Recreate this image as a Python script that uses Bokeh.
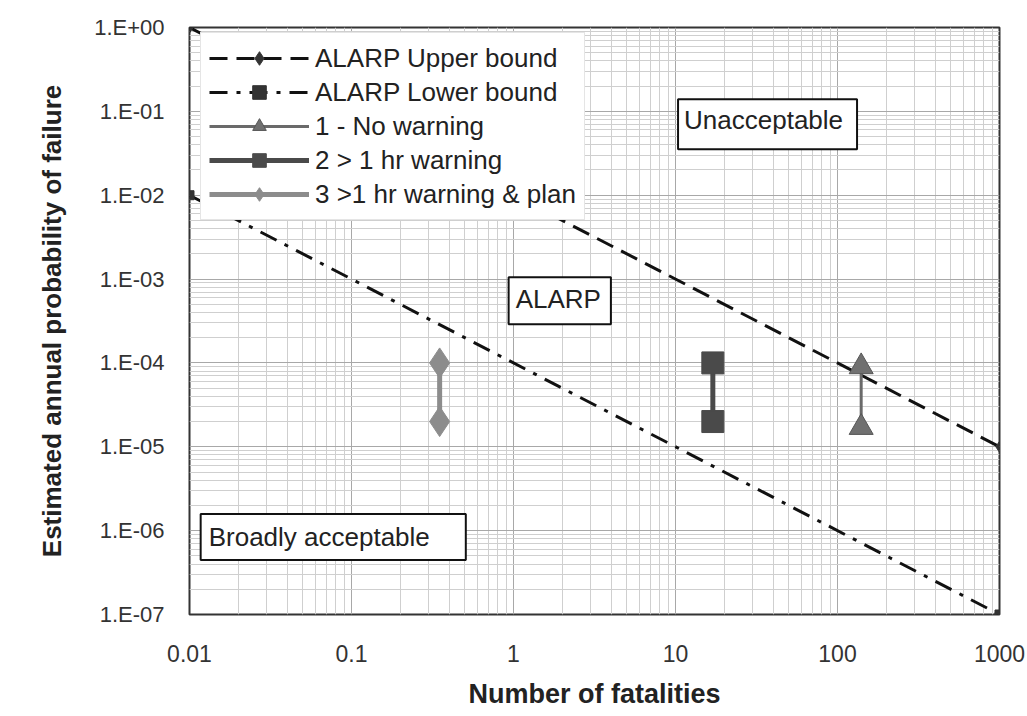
from bokeh.plotting import figure
from bokeh.models import (FixedTicker, CustomJSTickFormatter, Label, Legend,
                          LegendItem)
from bokeh.embed import file_html
from bokeh.resources import INLINE

# ---- data ----
bound_x = [0.01, 1000]
upper_bound = [1.0, 1e-5]
lower_bound = [1e-2, 1e-7]

s1_x = [140, 140]          # 1 - No warning
s1_y = [9e-5, 1.7e-5]
s2_x = [17, 17]            # 2 > 1 hr warning
s2_y = [1e-4, 2e-5]
s3_x = [0.35, 0.35]        # 3 >1 hr warning & plan
s3_y = [1e-4, 2e-5]

x_ticks = [0.01, 0.1, 1, 10, 100, 1000]
y_ticks = [1e-7, 1e-6, 1e-5, 1e-4, 1e-3, 1e-2, 1e-1, 1.0]
x_minor = [k * 10.0 ** d for d in range(-2, 3) for k in range(2, 10)]
y_minor = [k * 10.0 ** d for d in range(-7, 0) for k in range(2, 10)]

FONT = "Liberation Sans"

p = figure(width=1027, height=716, x_axis_type="log", y_axis_type="log",
           x_range=(0.01, 1000), y_range=(1e-7, 1.0),
           output_backend="svg", toolbar_location=None,
           min_border_left=189, min_border_right=28,
           min_border_top=27, min_border_bottom=102)

p.background_fill_color = "white"
p.border_fill_color = "white"
p.outline_line_color = "#333333"
p.outline_line_width = 2

p.xaxis.ticker = FixedTicker(ticks=x_ticks, minor_ticks=x_minor)
p.yaxis.ticker = FixedTicker(ticks=y_ticks, minor_ticks=y_minor)
p.xaxis.formatter = CustomJSTickFormatter(code="return String(tick);")
p.yaxis.formatter = CustomJSTickFormatter(code="""
const e = Math.round(Math.log10(tick));
const s = String(Math.abs(e)).padStart(2, '0');
return '1.E' + (e < 0 ? '-' : '+') + s;
""")

for ax in (p.xaxis, p.yaxis):
    ax.axis_line_color = None
    ax.major_tick_line_color = None
    ax.minor_tick_line_color = None
    ax.major_label_text_font = FONT
    ax.major_label_text_color = "#333333"
    ax.axis_label_text_font = FONT
    ax.axis_label_text_font_style = "bold"
    ax.axis_label_text_color = "#222222"

p.xaxis.axis_label_text_font_size = "27px"
p.yaxis.axis_label_text_font_size = "26px"
p.xaxis.major_label_text_font_size = "23px"
p.yaxis.major_label_text_font_size = "22px"
p.xaxis.axis_label = "Number of fatalities"
p.yaxis.axis_label = "Estimated annual probability of failure"
p.xaxis.major_label_standoff = 24
p.xaxis.axis_label_standoff = 14
p.yaxis.major_label_standoff = 19
p.yaxis.axis_label_standoff = 24

for g in (p.xgrid, p.ygrid):
    g.grid_line_color = "#a8a8a8"
    g.grid_line_width = 1
    g.minor_grid_line_color = "#cfcfcf"
    g.minor_grid_line_width = 1

# ---- bounds ----
ub_line = p.line(bound_x, upper_bound, line_color="#111111", line_width=3,
                 line_dash="18 9")
ub_pts = p.scatter(bound_x, upper_bound, marker="diamond", size=11,
                   fill_color="#333333", line_color="#333333")
lb_line = p.line(bound_x, lower_bound, line_color="#111111", line_width=3,
                 line_dash="18 9 4 9")
lb_pts = p.scatter(bound_x, lower_bound, marker="square", size=9,
                   fill_color="#333333", line_color="#333333")

# ---- series ----
s1_line = p.line(s1_x, s1_y, line_color="#6a6a6a", line_width=3)
s1_pts = p.scatter(s1_x, s1_y, marker="triangle", size=24,
                   fill_color="#707070", line_color="#555555", line_width=1)
s2_line = p.line(s2_x, s2_y, line_color="#4a4a4a", line_width=5)
s2_pts = p.scatter(s2_x, s2_y, marker="square", size=22,
                   fill_color="#4a4a4a", line_color="#4a4a4a")
s3_line = p.line(s3_x, s3_y, line_color="#8c8c8c", line_width=5)
s3_pts = p.scatter(s3_x, s3_y, marker="diamond", size=30,
                   fill_color="#8c8c8c", line_color="#8c8c8c")

legend = Legend(items=[
    LegendItem(label="ALARP Upper bound", renderers=[ub_line, ub_pts]),
    LegendItem(label="ALARP Lower bound", renderers=[lb_line, lb_pts]),
    LegendItem(label="1 - No warning", renderers=[s1_line, s1_pts]),
    LegendItem(label="2 > 1 hr warning", renderers=[s2_line, s2_pts]),
    LegendItem(label="3 >1 hr warning & plan", renderers=[s3_line, s3_pts]),
], location=(11, 394))
legend.label_text_font = FONT
legend.label_text_font_size = "26px"
legend.label_text_color = "#222222"
legend.glyph_width = 100
legend.glyph_height = 34
legend.label_height = 34
legend.spacing = 0
legend.padding = 8
legend.label_standoff = 6
legend.border_line_color = "#cccccc"
legend.background_fill_color = "white"
legend.background_fill_alpha = 1.0
p.add_layout(legend)

# ---- region labels ----
def box_label(x, y, text, pad, align="center"):
    return Label(x=x, y=y, text=text, text_align=align, text_baseline="middle",
                 text_font=FONT, text_font_size="26px", text_color="#222222",
                 border_line_color="#111111", border_line_width=2,
                 background_fill_color="white", background_fill_alpha=1.0,
                 padding=pad)

p.add_layout(box_label(37.0, 0.070, "Unacceptable", (6, 14, 6, 14)))
p.add_layout(box_label(1.93, 5.5e-4, "ALARP", (7, 10, 7, 10)))
p.add_layout(box_label(0.01172, 8.4e-7, "Broadly acceptable", (8, 36, 8, 8),
                       align="left"))

open("out.html", "w").write(file_html(p, INLINE))
